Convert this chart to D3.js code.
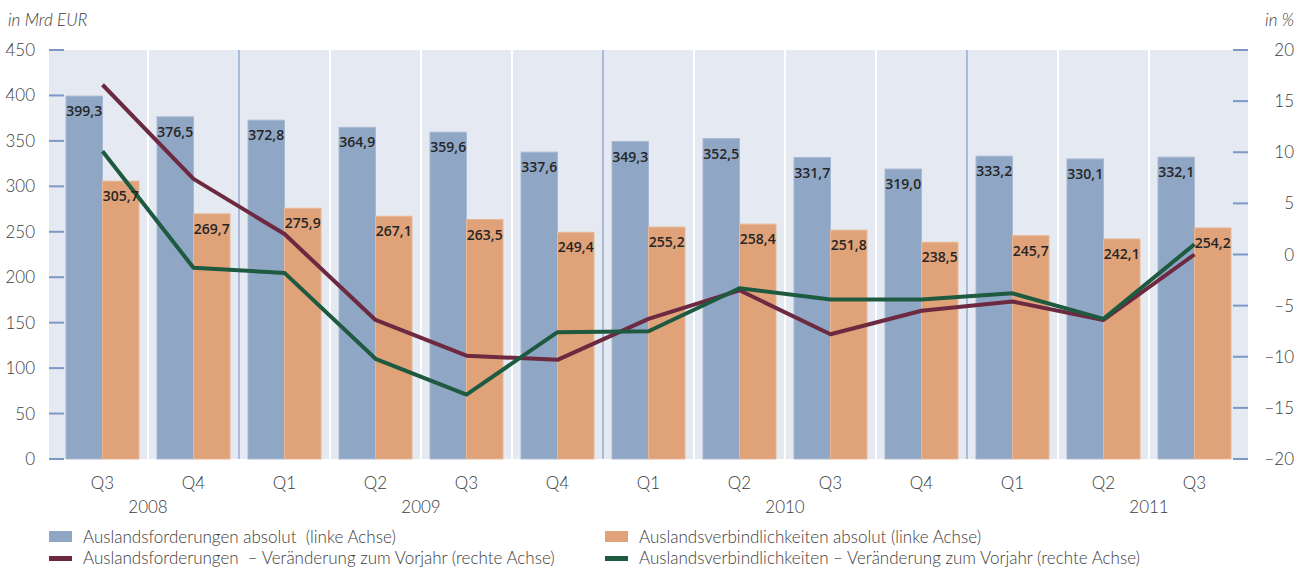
<!DOCTYPE html>
<html>
<head>
<meta charset="utf-8">
<script src="https://cdn.jsdelivr.net/npm/d3@7"></script>
<style>
  body { margin: 0; background: #fff; }
  text { font-family: Lato, "Open Sans", sans-serif; fill: #3c3c3c; }
</style>
</head>
<body>
<script>
// quarters on the x axis
let quarters = ["Q3","Q4","Q1","Q2","Q3","Q4","Q1","Q2","Q3","Q4","Q1","Q2","Q3"];
// year labels, centred between the given quarter indices
let years = [["2008",0,1],["2009",2,5],["2010",6,9],["2011",11,12]];
let yearBreaks = [2,6,10];

// bars, left axis (Mrd EUR)
let forderungen = [399.3,376.5,372.8,364.9,359.6,337.6,349.3,352.5,331.7,319.0,333.2,330.1,332.1];
let verbindlichkeiten = [305.7,269.7,275.9,267.1,263.5,249.4,255.2,258.4,251.8,238.5,245.7,242.1,254.2];

// lines, right axis (%)
let forderungenPct = [16.6,7.4,2.0,-6.4,-9.9,-10.3,-6.3,-3.5,-7.8,-5.5,-4.6,-6.4,0.0];
let verbindlichkeitenPct = [10.1,-1.3,-1.8,-10.2,-13.7,-7.6,-7.5,-3.3,-4.4,-4.4,-3.8,-6.3,1.0];

let leftTicks = [0,50,100,150,200,250,300,350,400,450];
let rightTicks = [-20,-15,-10,-5,0,5,10,15,20];

let W = 1309, H = 568;
let pLeft = 49, pRight = 1248, pTop = 50, pBottom = 459;

var svg = d3.select("body").append("svg")
  .attr("width", W).attr("height", H);

var x = d3.scaleBand().domain(d3.range(quarters.length))
  .range([pLeft, pRight]).paddingInner(0).paddingOuter(0.088);
var yL = d3.scaleLinear().domain([0,450]).range([pBottom, pTop]);
var yR = d3.scaleLinear().domain([-20,20]).range([pBottom, pTop]);

// plot background
svg.append("rect").attr("x", pLeft).attr("y", pTop)
  .attr("width", pRight-pLeft).attr("height", pBottom-pTop)
  .attr("fill", "#e5e9f1");

// separators between quarters
for(let i = 1; i<quarters.length; i++){
  let isYear = yearBreaks.indexOf(i) >= 0;
  svg.append("line")
    .attr("x1", x(i)).attr("x2", x(i))
    .attr("y1", pTop).attr("y2", pBottom)
    .attr("stroke", isYear ? "#6f8fc0" : "#ffffff")
    .attr("stroke-width", isYear ? 1 : 2);
}

// tick marks on both sides
svg.selectAll(".tl").data(leftTicks).enter().append("line")
  .attr("x1", pLeft).attr("x2", pLeft+15)
  .attr("y1", d => yL(d)).attr("y2", d => yL(d))
  .attr("stroke", "#7b98c6").attr("stroke-width", 2);
svg.selectAll(".tr").data(rightTicks).enter().append("line")
  .attr("x1", pRight-15).attr("x2", pRight)
  .attr("y1", d => yR(d)).attr("y2", d => yR(d))
  .attr("stroke", "#7b98c6").attr("stroke-width", 2);

// bars
let bw = 36.5;
svg.selectAll(".bf").data(forderungen).enter().append("rect")
  .attr("x", (d,i) => x(i) + x.bandwidth()/2 - bw)
  .attr("y", d => yL(d))
  .attr("width", bw).attr("height", d => yL(0) - yL(d))
  .attr("fill", "#8fa6c5").attr("stroke", "#a8b9d2").attr("stroke-width", 1);
svg.selectAll(".bv").data(verbindlichkeiten).enter().append("rect")
  .attr("x", (d,i) => x(i) + x.bandwidth()/2)
  .attr("y", d => yL(d))
  .attr("width", bw).attr("height", d => yL(0) - yL(d))
  .attr("fill", "#e0a279").attr("stroke", "#e8b797").attr("stroke-width", 1);

// lines
var line = d3.line().x((d,i) => x(i) + x.bandwidth()/2).y(d => yR(d));
svg.append("path").datum(forderungenPct)
  .attr("d", line).attr("fill", "none")
  .attr("stroke", "#6c2940").attr("stroke-width", 4).attr("stroke-linejoin", "round");
svg.append("path").datum(verbindlichkeitenPct)
  .attr("d", line).attr("fill", "none")
  .attr("stroke", "#1e5a40").attr("stroke-width", 4).attr("stroke-linejoin", "round");

// bar value labels
let fmt = v => v.toFixed(1).replace(".", ",");
svg.selectAll(".lf").data(forderungen).enter().append("text")
  .attr("x", (d,i) => x(i) + x.bandwidth()/2 - bw/2)
  .attr("y", d => yL(d) + 20)
  .attr("text-anchor", "middle")
  .style("font-family", "'Open Sans', sans-serif").style("font-weight", 600)
  .style("font-size", "14px").style("fill", "#262626")
  .text(fmt);
svg.selectAll(".lv").data(verbindlichkeiten).enter().append("text")
  .attr("x", (d,i) => x(i) + x.bandwidth()/2 + bw/2)
  .attr("y", d => yL(d) + 20)
  .attr("text-anchor", "middle")
  .style("font-family", "'Open Sans', sans-serif").style("font-weight", 600)
  .style("font-size", "14px").style("fill", "#262626")
  .text(fmt);

// axis tick labels
svg.selectAll(".ll").data(leftTicks).enter().append("text")
  .attr("x", 35).attr("y", d => yL(d) + 6)
  .attr("text-anchor", "end")
  .style("font-size", "17px").style("font-weight", 300)
  .text(d => d);
svg.selectAll(".rl").data(rightTicks).enter().append("text")
  .attr("x", 1294).attr("y", d => yR(d) + 6)
  .attr("text-anchor", "end")
  .style("font-size", "17px").style("font-weight", 300)
  .text(d => String(d).replace("-", "\u2013"));

// axis titles
svg.append("text").attr("x", 8).attr("y", 26)
  .style("font-size", "17px").style("font-style", "italic").style("font-weight", 300)
  .text("in Mrd EUR");
svg.append("text").attr("x", 1294).attr("y", 26).attr("text-anchor", "end")
  .style("font-size", "17px").style("font-style", "italic").style("font-weight", 300)
  .text("in %");

// x labels
svg.selectAll(".ql").data(quarters).enter().append("text")
  .attr("x", (d,i) => x(i) + x.bandwidth()/2)
  .attr("y", 489).attr("text-anchor", "middle")
  .style("font-size", "17px").style("font-weight", 300)
  .text(d => d);
svg.selectAll(".yl").data(years).enter().append("text")
  .attr("x", d => (x(d[1]) + x(d[2]) + x.bandwidth())/2)
  .attr("y", 513).attr("text-anchor", "middle")
  .style("font-size", "17px").style("font-weight", 300)
  .text(d => d[0]);

// legend
let legend = [
  ["Auslandsforderungen absolut  (linke Achse)", "rect", "#8fa6c5", 49, 0],
  ["Auslandsverbindlichkeiten absolut (linke Achse)", "rect", "#e0a279", 605, 0],
  ["Auslandsforderungen  \u2013 Ver\u00e4nderung zum Vorjahr (rechte Achse)", "line", "#6c2940", 49, 1],
  ["Auslandsverbindlichkeiten \u2013 Ver\u00e4nderung zum Vorjahr (rechte Achse)", "line", "#1e5a40", 605, 1]
];
legend.forEach(function(l){
  let yy = 537 + l[4]*21;
  if(l[1] == "rect"){
    svg.append("rect").attr("x", l[3]).attr("y", yy-6).attr("width", 23).attr("height", 11).attr("fill", l[2]);
  } else {
    svg.append("rect").attr("x", l[3]).attr("y", yy-2).attr("width", 23).attr("height", 5).attr("fill", l[2]);
  }
  svg.append("text").attr("x", l[3] + 34).attr("y", yy + 6)
    .style("font-size", "17px").style("font-weight", 300)
    .style("white-space", "pre")
    .text(l[0]);
});
</script>
</body>
</html>
